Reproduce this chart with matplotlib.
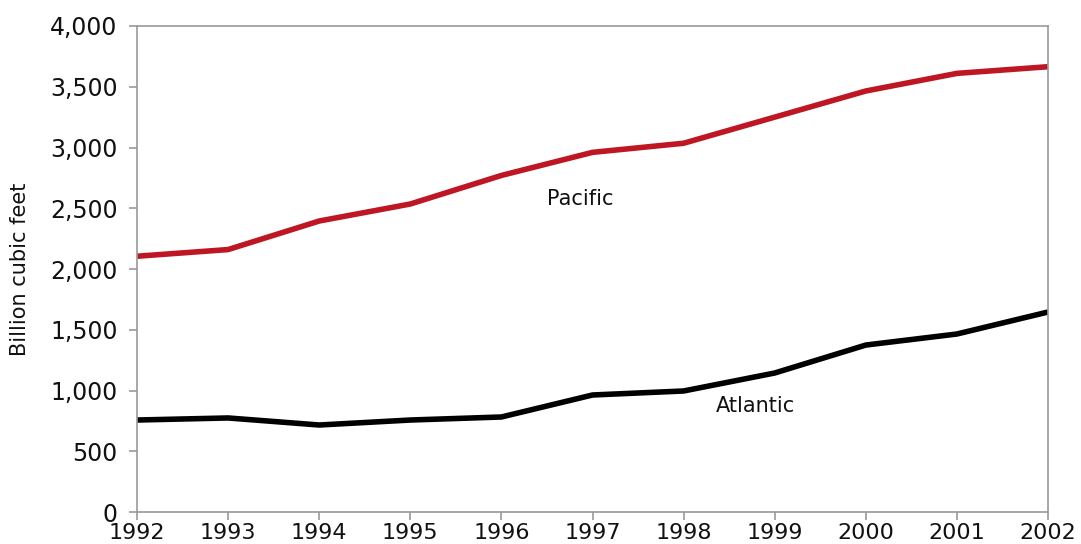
import matplotlib
matplotlib.use("Agg")
import matplotlib.pyplot as plt
from matplotlib.ticker import FuncFormatter

years = [1992, 1993, 1994, 1995, 1996, 1997, 1998, 1999, 2000, 2001, 2002]
pacific = [2105, 2160, 2395, 2535, 2770, 2960, 3035, 3250, 3465, 3610, 3665]
atlantic = [757, 774, 716, 757, 782, 963, 996, 1144, 1374, 1465, 1646]
y_ticks = [0, 500, 1000, 1500, 2000, 2500, 3000, 3500, 4000]

fig = plt.figure(figsize=(10.81, 5.44), dpi=100)
ax = fig.add_axes([137/1081, 1 - 512/544, (1048-137)/1081, (512-26)/544])

ax.plot(years, pacific, color="#BE1622", lw=4.0, solid_capstyle="butt", solid_joinstyle="round")
ax.plot(years, atlantic, color="#000000", lw=4.0, solid_capstyle="butt", solid_joinstyle="round")

ax.set_xlim(1992, 2002)
ax.set_ylim(0, 4000)
ax.set_xticks(years)
ax.set_yticks(y_ticks)
ax.yaxis.set_major_formatter(FuncFormatter(lambda v, p: f"{int(v):,}"))

for s in ax.spines.values():
    s.set_color("#999999")
    s.set_linewidth(1.2)
ax.tick_params(axis="both", direction="out", length=6, width=1.2, color="#999999",
               labelsize=17, labelcolor="#111111")
ax.tick_params(axis="y", pad=8)
ax.tick_params(axis="x", pad=2, labelsize=16)
for lbl in ax.get_yticklabels():
    lbl.set_verticalalignment("center_baseline")

ax.set_ylabel("Billion cubic feet", fontsize=15, color="#111111", labelpad=14)

ax.text(1996.5, 2575, "Pacific", fontsize=15, color="#111111", ha="left", va="center")
ax.text(1998.35, 870, "Atlantic", fontsize=15, color="#111111", ha="left", va="center")

fig.savefig("out.png", dpi=100)
